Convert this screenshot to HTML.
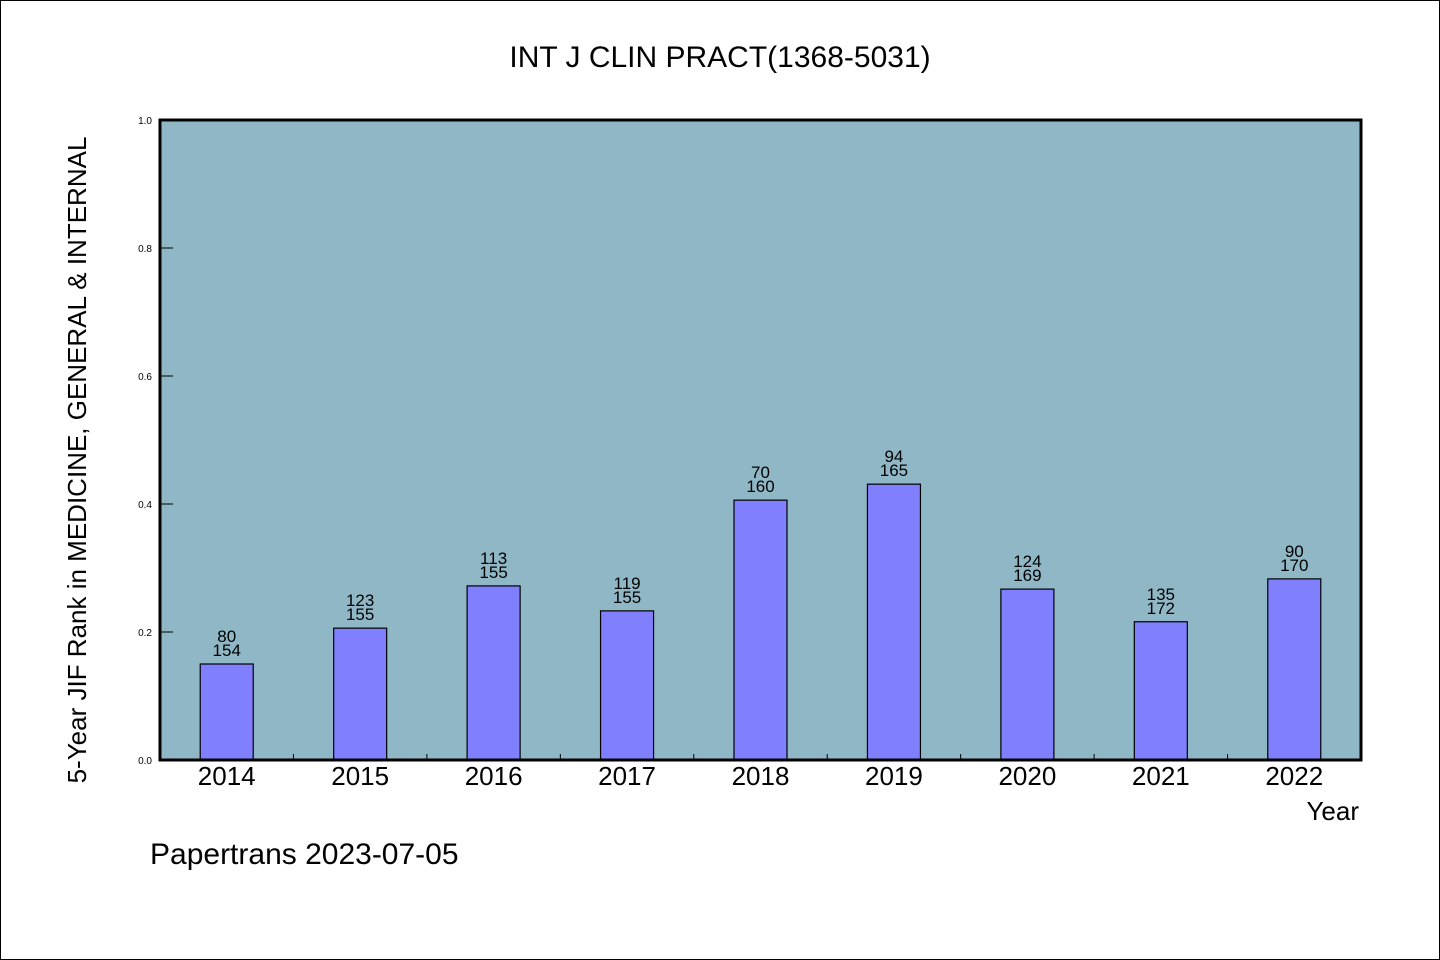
<!DOCTYPE html>
<html><head><meta charset="utf-8"><style>
html,body{margin:0;padding:0;background:#fff}
svg{display:block}
text{font-family:"WenQuanYi Zen Hei","Liberation Sans",sans-serif;fill:#000}
</style></head><body>
<svg id="chart" width="1440" height="960" viewBox="0 0 1440 960">
<rect x="0.5" y="0.5" width="1439" height="959" fill="#fff" stroke="#000"/>
<text x="720" y="67" font-size="30" text-anchor="middle">INT J CLIN PRACT(1368-5031)</text>
<rect x="160" y="120" width="1201" height="640" fill="#8fb7c6"/>
<g id="bars"></g>
<g id="axes"></g>
<rect x="160" y="120" width="1201" height="640" fill="none" stroke="#000" stroke-width="3"/>
<text transform="translate(86,460) rotate(-90)" font-size="26" text-anchor="middle">5-Year JIF Rank in MEDICINE, GENERAL &amp; INTERNAL</text>
<text x="1359" y="820" font-size="26" text-anchor="end">Year</text>
<text x="150" y="864" font-size="30">Papertrans 2023-07-05</text>
</svg>
<script>
const years=["2014","2015","2016","2017","2018","2019","2020","2021","2022"];
const values=[0.15,0.206,0.272,0.233,0.406,0.431,0.267,0.216,0.283];
const ranks=["80","123","113","119","70","94","124","135","90"];
const totals=["154","155","155","155","160","165","169","172","170"];
const yTicks=[0,0.2,0.4,0.6,0.8,1.0];
const yTickLabels=["0.0","0.2","0.4","0.6","0.8","1.0"];
const NS="http://www.w3.org/2000/svg";
const X0=160,X1=1361,Y0=760,Y1=120;
const band=(X1-X0)/years.length;
function xc(i){return X0+band*(i+0.5);}
function y(v){return Y0-(Y0-Y1)*v;}
function mk(t,a,p){const e=document.createElementNS(NS,t);for(const k in a)e.setAttribute(k,a[k]);p.appendChild(e);return e;}
const bars=document.getElementById('bars'),axes=document.getElementById('axes');
years.forEach((yr,i)=>{
  const bw=53,top=y(values[i]);
  const r=mk('rect',{x:xc(i)-bw/2,y:top,width:bw,height:Y0-top,fill:'#8080ff',stroke:'#000','stroke-width':1.2},bars);
  
  
  const t1=mk('text',{x:xc(i),y:top-22,'font-size':17,'text-anchor':'middle'},bars);t1.textContent=ranks[i];
  
  
  const t2=mk('text',{x:xc(i),y:top-8,'font-size':17,'text-anchor':'middle'},bars);t2.textContent=totals[i];
  
  
  const xl=mk('text',{x:xc(i),y:785,'font-size':26,'text-anchor':'middle'},axes);xl.textContent=yr;
  
  
  if(i>0){const tk=mk('line',{x1:X0+band*i,x2:X0+band*i,y1:Y0,y2:Y0-6,stroke:'#000','stroke-width':1},axes);
  
  }
});
yTicks.forEach((v,i)=>{
  const tk=mk('line',{x1:X0,x2:X0+13,y1:y(v),y2:y(v),stroke:'#000','stroke-width':1},axes);
  
  
  const tl=mk('text',{x:152,y:y(v)+4,'font-size':10,'text-anchor':'end'},axes);tl.textContent=yTickLabels[i];
  
  
});
</script>
</body></html>
